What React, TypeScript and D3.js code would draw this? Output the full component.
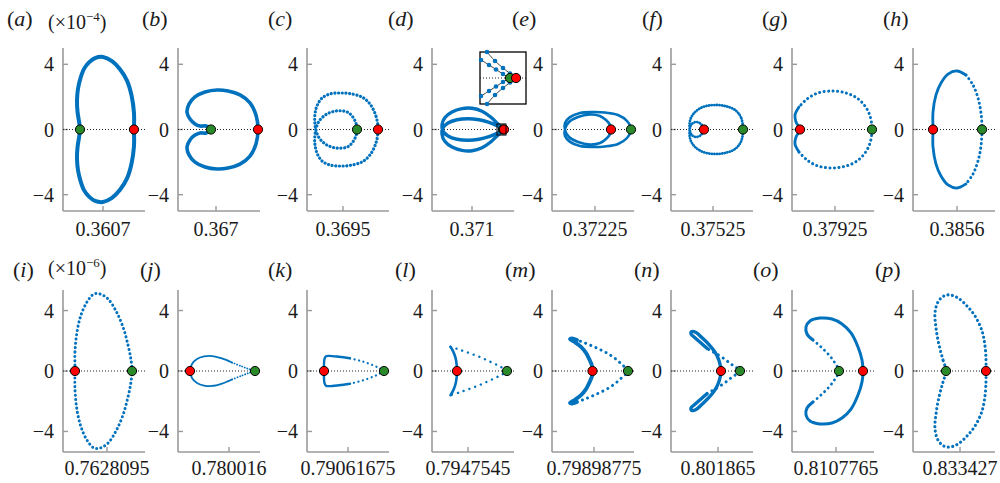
import React from "react";
import * as d3 from "d3";

type Pt = [number, number];

// ---------------- data ----------------
const topTickLabels = ["0.3607", "0.367", "0.3695", "0.371", "0.37225", "0.37525", "0.37925", "0.3856"];
const bottomTickLabels = ["0.7628095", "0.780016", "0.79061675", "0.7947545", "0.79898775", "0.801865", "0.8107765", "0.833427"];
// tick position inside each panel window (relative x units, window = 0..82)
const topTickPos = [40, 38, 36, 40, 43, 42, 43, 44];
const bottomTickPos = [44, 51, 41, 36, 42, 47, 44, 47];
const yTicks = [-4, 0, 4];
const topLetters = ["a", "b", "c", "d", "e", "f", "g", "h"];
const bottomLetters = ["i", "j", "k", "l", "m", "n", "o", "p"];
const topExponent = "−4";
const bottomExponent = "−6";

const topRedX = [71, 80, 71, 72, 59, 33, 8, 20];
const topGreenX = [17, 33, 50, 71, 79, 72, 80, 69];
const bottomRedX = [12, 12, 17, 25, 40.5, 50, 71, 73];
const bottomGreenX = [69, 77, 77, 75, 76, 69, 47, 33];

const loopA: Pt[] = [[71,0],[71,1.0],[68.5,2.1],[64,3.0],[57,3.7],[49,4.2],[40,4.45],[32,4.38],[26,4.12],[21,3.72],[17.5,3.15],[15,2.5],[14,1.8],[14.5,1.1],[16,0.5],[17,0],[16,-0.5],[14.5,-1.1],[14,-1.8],[15,-2.5],[17.5,-3.15],[21,-3.72],[26,-4.12],[32,-4.38],[40,-4.45],[49,-4.2],[57,-3.7],[64,-3.0],[68.5,-2.1],[71,-1.0]];
const loopB: Pt[] = [[80,0],[78,0.89],[72,1.63],[62,2.12],[50,2.36],[39,2.42],[27,2.3],[17,2.0],[11,1.56],[9,1.07],[12,0.64],[17,0.34],[22,0.21],[28,0.21],[33,0],[28,-0.21],[22,-0.21],[17,-0.34],[12,-0.64],[9,-1.07],[11,-1.56],[17,-2.0],[27,-2.3],[39,-2.42],[50,-2.36],[62,-2.12],[72,-1.63],[78,-0.89]];
const loopC: Pt[] = [[71,0],[69,0.82],[63,1.56],[55,1.99],[43,2.2],[33,2.24],[23,2.18],[15,1.93],[10,1.45],[8,0.95],[7.8,0.45],[9,-0.05],[12,-0.5],[18,-0.88],[25,-1.08],[33,-1.15],[41,-1.05],[46,-0.75],[49,-0.38],[50,0],[49,0.38],[46,0.75],[41,1.05],[33,1.15],[25,1.08],[18,0.88],[12,0.5],[9,0.05],[7.8,-0.45],[8,-0.95],[10,-1.45],[15,-1.93],[23,-2.18],[33,-2.24],[43,-2.2],[55,-1.99],[63,-1.56],[69,-0.82]];
const loopD: Pt[] = [[72,0],[66,0.34],[59,0.75],[50,1.12],[40,1.3],[30,1.28],[20,1.08],[13,0.74],[10,0.3],[11,-0.1],[16,-0.4],[25,-0.6],[36,-0.66],[47,-0.6],[57,-0.44],[64.5,-0.25],[71,0],[64.5,0.25],[57,0.44],[47,0.6],[36,0.66],[25,0.6],[16,0.4],[11,0.1],[10,-0.3],[13,-0.74],[20,-1.08],[30,-1.28],[40,-1.3],[50,-1.12],[59,-0.75],[66,-0.34]];
const loopE: Pt[] = [[79,0],[75,0.52],[66,0.89],[53,1.04],[40,1.07],[28,1.01],[18,0.76],[13,0.4],[13,-0.03],[17,-0.46],[26,-0.77],[38,-0.92],[48,-0.83],[54,-0.58],[58,-0.28],[59,0],[58,0.28],[54,0.58],[48,0.83],[38,0.92],[26,0.77],[17,0.46],[13,0.03],[13,-0.4],[18,-0.76],[28,-1.01],[40,-1.07],[53,-1.04],[66,-0.89],[75,-0.52]];
const loopF: Pt[] = [[72,0],[70,0.74],[64,1.2],[54,1.44],[43,1.5],[32,1.38],[24,1.07],[19.5,0.64],[18.5,0.2],[19.5,-0.2],[22,-0.4],[26,-0.46],[30,-0.33],[33,0],[30,0.33],[26,0.46],[22,0.4],[19.5,0.2],[18.5,-0.2],[19.5,-0.64],[24,-1.07],[32,-1.38],[43,-1.5],[54,-1.44],[64,-1.2],[70,-0.74]];
const loopG: Pt[] = [[80,0],[78,0.83],[73,1.44],[65,1.93],[54,2.24],[40,2.36],[26,2.24],[15,1.87],[7,1.38],[3,0.89],[4,0.46],[8,0],[4,-0.46],[3,-0.89],[7,-1.38],[15,-1.87],[26,-2.24],[40,-2.36],[54,-2.24],[65,-1.93],[73,-1.44],[78,-0.83]];
const loopH: Pt[] = [[20,0],[20,1.07],[23,2.12],[28,2.85],[35,3.4],[44,3.59],[53,3.34],[60,2.73],[65,1.93],[68,1.01],[69,0],[68,-1.01],[65,-1.93],[60,-2.73],[53,-3.34],[44,-3.59],[35,-3.4],[28,-2.85],[23,-2.12],[20,-1.07]];

const loopI: Pt[] = [[12,0],[12,1.26],[14,2.58],[18,3.7],[24,4.57],[31,5.1],[37,5.1],[45,4.77],[53,3.97],[60,2.91],[65,1.72],[68,0.73],[69,0],[68,-0.73],[65,-1.72],[60,-2.91],[53,-3.97],[45,-4.77],[37,-5.1],[31,-5.1],[24,-4.57],[18,-3.7],[14,-2.58],[12,-1.26]];
const loopJ: Pt[] = [[12,0],[14,0.46],[19,0.79],[26,0.96],[34,0.99],[44,0.83],[54,0.56],[64,0.3],[72,0.1],[77,0],[72,-0.1],[64,-0.3],[54,-0.56],[44,-0.83],[34,-0.99],[26,-0.96],[19,-0.79],[14,-0.46]];
const loopK: Pt[] = [[17,0],[17,0.46],[17.5,0.8],[19,0.97],[22,1.0],[32,0.94],[43,0.84],[55,0.64],[66,0.38],[72,0.2],[77,0],[72,-0.2],[66,-0.38],[55,-0.64],[43,-0.84],[32,-0.94],[22,-1.0],[19,-0.97],[17.5,-0.8],[17,-0.46]];
const loopL: Pt[] = [[25,0],[24,0.73],[21.5,1.25],[18.5,1.6],[28,1.4],[38,1.17],[48,0.92],[58,0.62],[68,0.3],[75,0],[68,-0.3],[58,-0.62],[48,-0.92],[38,-1.17],[28,-1.4],[18.5,-1.6],[21.5,-1.25],[24,-0.73]];
const loopM: Pt[] = [[76,0],[70,0.42],[64,0.78],[56,1.15],[48,1.42],[40,1.66],[32,1.88],[25,2.05],[20,2.15],[18,2.1],[23,1.9],[29,1.6],[34,1.2],[37.5,0.75],[40,0.35],[40.5,0],[40,-0.35],[37.5,-0.75],[34,-1.2],[29,-1.6],[23,-1.9],[18,-2.1],[20,-2.15],[25,-2.05],[32,-1.88],[40,-1.66],[48,-1.42],[56,-1.15],[64,-0.78],[70,-0.42]];
const loopN: Pt[] = [[69,0],[64,0.28],[59,0.51],[54,0.77],[46,1.12],[41,1.3],[36,1.5],[30,1.85],[24,2.2],[20,2.45],[20.5,2.6],[25,2.55],[31,2.2],[38,1.75],[44,1.25],[48,0.7],[50,0],[48,-0.7],[44,-1.25],[38,-1.75],[31,-2.2],[25,-2.55],[20.5,-2.6],[20,-2.45],[24,-2.2],[30,-1.85],[36,-1.5],[41,-1.3],[46,-1.12],[54,-0.77],[59,-0.51],[64,-0.28]];
const loopO: Pt[] = [[71,0],[70,0.73],[66,1.59],[59,2.52],[50,3.11],[40,3.44],[28,3.5],[18,3.31],[14,2.91],[15,2.45],[21,2.05],[29,1.59],[37,1.06],[43,0.53],[47,0],[43,-0.53],[37,-1.06],[29,-1.59],[21,-2.05],[15,-2.45],[14,-2.91],[18,-3.31],[28,-3.5],[40,-3.44],[50,-3.11],[59,-2.52],[66,-1.59],[70,-0.73]];
const loopP: Pt[] = [[33,0],[30,0.73],[26,1.72],[23,2.85],[22,3.84],[25,4.57],[31,4.97],[37,5.03],[45,4.83],[54,4.3],[62,3.64],[69,2.65],[72,1.66],[73,0.73],[73,0],[73,-0.73],[72,-1.66],[69,-2.65],[62,-3.64],[54,-4.3],[45,-4.83],[37,-5.03],[31,-4.97],[25,-4.57],[22,-3.84],[23,-2.85],[26,-1.72],[30,-0.73]];

// inset of panel (d): magnified tip region
const insetWindowX = [65, 74];
const insetWindowY = [-0.34, 0.34];
const insetOuterUpper: Pt[] = [[66.37,0.34],[67.94,0.222],[69.5,0.131],[70.87,0.059],[72.05,0]];
const insetInnerUpper: Pt[] = [[65.2,0.235],[66.76,0.17],[68.13,0.111],[69.5,0.052],[70.87,0]];
const insetOuterLower: Pt[] = [[66.37,-0.34],[67.94,-0.222],[69.5,-0.131],[70.87,-0.059],[72.05,0]];
const insetInnerLower: Pt[] = [[65.2,-0.235],[66.76,-0.17],[68.13,-0.111],[69.5,-0.052],[70.87,0]];
const insetRedX = 72.05;
const insetGreenX = 70.87;

// ---------------- layout & style ----------------
const BLUE = "#0072BD";
const AXIS = "#9a9a9a";
const TXT = "#1a1a1a";
const FONT = "Liberation Serif, Times New Roman, Tinos, DejaVu Serif, Noto Serif, serif";
const PANEL_LEFT = [63, 178, 307, 432, 552, 671, 792, 913];
const PANEL_W = 82;
const X_DOMAIN = [0, 82];

type Stroke = { w: number; dash?: string };
const solid = (w: number): Stroke => ({ w });
const dots = (w: number, gap: number): Stroke => ({ w, dash: `0.1 ${gap}` });
type Seg = { from: number; to: number; s: Stroke };
type PanelStyle = { closed?: Stroke; segs?: Seg[] };

const topLoops = [loopA, loopB, loopC, loopD, loopE, loopF, loopG, loopH];
const bottomLoops = [loopI, loopJ, loopK, loopL, loopM, loopN, loopO, loopP];

const topStyles: PanelStyle[] = [
  { closed: solid(4) },
  { closed: solid(3.6) },
  { closed: dots(3.2, 3.6) },
  { closed: solid(3.4) },
  { closed: solid(2.6) },
  { closed: dots(2.8, 2.5) },
  { segs: [{ from: 8, to: 14, s: solid(2.8) }, { from: 14, to: 30, s: dots(3, 4.4) }] },
  { segs: [{ from: 14, to: 26, s: solid(2.8) }, { from: 6, to: 14, s: dots(3, 4.4) }] },
];
const bottomStyles: PanelStyle[] = [
  { closed: dots(3, 4.2) },
  { segs: [{ from: 12, to: 24, s: solid(1.8) }, { from: 6, to: 12, s: dots(1.8, 2.6) }] },
  { segs: [{ from: 14, to: 26, s: solid(2.4) }, { from: 6, to: 14, s: dots(2.2, 4.5) }] },
  { segs: [{ from: 15, to: 21, s: solid(2.6) }, { from: 3, to: 15, s: dots(2.4, 6) }] },
  { segs: [{ from: 7, to: 23, s: solid(3.8) }, { from: 23, to: 37, s: dots(3, 5.5) }] },
  { segs: [{ from: 6, to: 26, s: solid(3.4) }, { from: 26, to: 38, s: dots(3, 5.5) }] },
  { segs: [{ from: 18, to: 38, s: solid(3) }, { from: 10, to: 18, s: dots(2.8, 5) }] },
  { closed: dots(3.1, 4.4) },
];

const ROWS = [
  {
    top: 48, bottom: 211, yMax: 5, letterBaseline: 26, tickBaseline: 236, expBaseline: 29,
    letterX: [7, 142, 268, 388, 512, 642, 762, 883],
    letters: topLetters, tickLabels: topTickLabels, tickPos: topTickPos,
    loops: topLoops, styles: topStyles, redX: topRedX, greenX: topGreenX, exponent: topExponent,
  },
  {
    top: 290, bottom: 452, yMax: 5.36, letterBaseline: 277, tickBaseline: 475, expBaseline: 275,
    letterX: [13, 140, 268, 395, 505, 634, 753, 875],
    letters: bottomLetters, tickLabels: bottomTickLabels, tickPos: bottomTickPos,
    loops: bottomLoops, styles: bottomStyles, redX: bottomRedX, greenX: bottomGreenX, exponent: bottomExponent,
  },
];

function slice(loop: Pt[], from: number, to: number): Pt[] {
  const out: Pt[] = [];
  for (let i = from; i <= to; i++) out.push(loop[i % loop.length]);
  return out;
}

const textStyle: React.CSSProperties = { fontFamily: FONT };

function Panel({ row, idx }: { row: (typeof ROWS)[number]; idx: number }) {
  const left = PANEL_LEFT[idx];
  const x = d3.scaleLinear().domain(X_DOMAIN).range([left, left + PANEL_W]);
  const y = d3.scaleLinear().domain([-row.yMax, row.yMax]).range([row.bottom, row.top]);
  const loop = row.loops[idx];
  const style = row.styles[idx];
  const closedLine = d3.line<Pt>().x((d) => x(d[0])).y((d) => y(d[1])).curve(d3.curveCatmullRomClosed.alpha(0.5));
  const openLine = d3.line<Pt>().x((d) => x(d[0])).y((d) => y(d[1])).curve(d3.curveCatmullRom.alpha(0.5));
  const tx = x(row.tickPos[idx]);

  const strokeProps = (s: Stroke) => ({
    fill: "none",
    stroke: BLUE,
    strokeWidth: s.w,
    strokeLinecap: "round" as const,
    strokeLinejoin: "round" as const,
    strokeDasharray: s.dash,
  });

  let inset: React.ReactNode = null;
  if (row.letters[idx] === "d") {
    const bx0 = 480, bx1 = 526, by0 = 52, by1 = 104;
    const xi = d3.scaleLinear().domain(insetWindowX).range([bx0, bx1]);
    const yi = d3.scaleLinear().domain(insetWindowY).range([by1, by0]);
    const li = d3.line<Pt>().x((d) => xi(d[0])).y((d) => yi(d[1])).curve(d3.curveCatmullRom);
    const arcs = [insetOuterUpper, insetInnerUpper, insetOuterLower, insetInnerLower];
    inset = (
      <g>
        <rect x={x(insetWindowX[0])} y={y(insetWindowY[1])} width={x(insetWindowX[1]) - x(insetWindowX[0])}
          height={y(insetWindowY[0]) - y(insetWindowY[1])} fill="none" stroke="#000" strokeWidth={1} />
        <rect x={bx0} y={by0} width={bx1 - bx0} height={by1 - by0} fill="#fff" stroke="#000" strokeWidth={1.3} />
        <line x1={bx0} x2={bx1} y1={yi(0)} y2={yi(0)} stroke="#222" strokeWidth={1} strokeDasharray="1 2" />
        {arcs.map((a, k) => (
          <g key={k}>
            <path d={li(a) || ""} fill="none" stroke="#111" strokeWidth={0.8} />
            {a.map((p, j) => (
              <circle key={j} cx={xi(p[0])} cy={yi(p[1])} r={2.3} fill={BLUE} />
            ))}
          </g>
        ))}
        <circle cx={xi(insetGreenX)} cy={yi(0)} r={4.6} fill="#2a8a2a" stroke="#000" strokeWidth={1} />
        <circle cx={xi(insetRedX)} cy={yi(0)} r={4.6} fill="#ff0000" stroke="#000" strokeWidth={1} />
      </g>
    );
  }

  return (
    <g>
      <line x1={left} x2={left} y1={row.top} y2={row.bottom} stroke={AXIS} strokeWidth={1.6} />
      <line x1={left} x2={left + PANEL_W} y1={row.bottom} y2={row.bottom} stroke={AXIS} strokeWidth={1.6} />
      {yTicks.map((t) => (
        <g key={t}>
          <line x1={left} x2={left + 5} y1={y(t)} y2={y(t)} stroke={AXIS} strokeWidth={1.4} />
          <text x={left - 9} y={y(t)} dy="0.35em" textAnchor="end" fontSize={20} style={textStyle} fill={TXT}>
            {t < 0 ? `−${Math.abs(t)}` : `${t}`}
          </text>
        </g>
      ))}
      <line x1={tx} x2={tx} y1={row.bottom} y2={row.bottom - 5} stroke={AXIS} strokeWidth={1.4} />
      <text x={tx} y={row.tickBaseline} textAnchor="middle" fontSize={20} style={textStyle} fill={TXT}>
        {row.tickLabels[idx]}
      </text>
      <line x1={left} x2={left + PANEL_W} y1={y(0)} y2={y(0)} stroke="#222" strokeWidth={1} strokeDasharray="1 2" />
      {style.closed && <path d={closedLine(loop) || ""} {...strokeProps(style.closed)} />}
      {style.segs &&
        style.segs.map((sg, k) => <path key={k} d={openLine(slice(loop, sg.from, sg.to)) || ""} {...strokeProps(sg.s)} />)}
      <circle cx={x(row.greenX[idx])} cy={y(0)} r={4.6} fill="#2a8a2a" stroke="#000" strokeWidth={1} />
      <circle cx={x(row.redX[idx])} cy={y(0)} r={4.6} fill="#ff0000" stroke="#000" strokeWidth={1} />
      {inset}
      <text x={row.letterX[idx]} y={row.letterBaseline} fontSize={22} style={textStyle} fill={TXT}>
        (<tspan fontStyle="italic">{row.letters[idx]}</tspan>)
      </text>
    </g>
  );
}

export default function App() {
  return (
    <div style={{ position: "absolute", left: 0, top: 0, width: 1000, height: 483, background: "#fff" }}>
      <svg width={1000} height={483} viewBox="0 0 1000 483" style={{ display: "block" }}>
        <rect width={1000} height={483} fill="#fff" />
        {ROWS.map((row, r) => (
          <g key={r}>
            {row.letters.map((_, i) => (
              <Panel key={i} row={row} idx={i} />
            ))}
            <text x={48} y={row.expBaseline} fontSize={20} style={textStyle} fill={TXT}>
              (×10<tspan dy={-8} fontSize={13}>{row.exponent}</tspan>
              <tspan dy={8}>)</tspan>
            </text>
          </g>
        ))}
      </svg>
    </div>
  );
}
